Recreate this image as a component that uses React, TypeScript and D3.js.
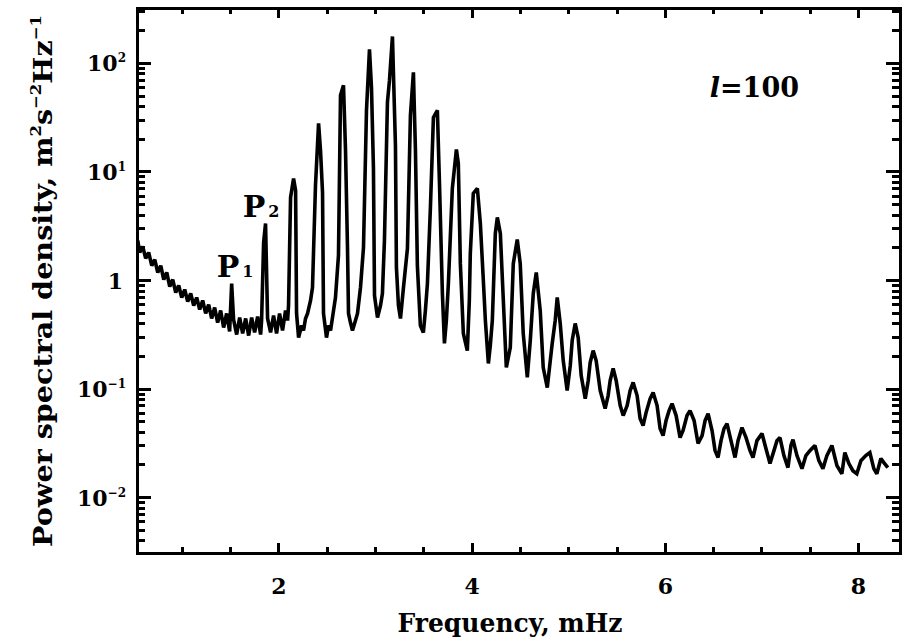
import React from 'react';
import * as d3 from 'd3';

// Frequency (mHz) and power spectral density (m^2 s^-2 Hz^-1)
const freq = [
  0.538, 0.558, 0.589, 0.620, 0.651, 0.683, 0.714, 0.745, 0.776, 0.807, 0.838, 0.869, 0.900, 0.931, 0.962, 0.993,
  1.024, 1.055, 1.086, 1.117, 1.148, 1.179, 1.210, 1.241, 1.272, 1.303, 1.334, 1.365, 1.396, 1.427, 1.458, 1.489,
  1.510, 1.530, 1.562, 1.593, 1.624, 1.655, 1.686, 1.717, 1.748, 1.779, 1.810, 1.820, 1.841, 1.861, 1.882, 1.913,
  1.944, 1.975, 2.006, 2.037, 2.068, 2.089, 2.099, 2.120, 2.151, 2.172, 2.182, 2.203, 2.234, 2.254, 2.275, 2.296,
  2.327, 2.347, 2.378, 2.410, 2.430, 2.451, 2.461, 2.492, 2.513, 2.534, 2.565, 2.585, 2.616, 2.637, 2.668, 2.689,
  2.709, 2.720, 2.740, 2.761, 2.792, 2.813, 2.844, 2.875, 2.906, 2.937, 2.958, 2.978, 2.989, 3.020, 3.051, 3.071,
  3.092, 3.123, 3.144, 3.175, 3.185, 3.206, 3.216, 3.237, 3.258, 3.289, 3.330, 3.361, 3.392, 3.402, 3.413, 3.433,
  3.464, 3.495, 3.516, 3.537, 3.568, 3.599, 3.640, 3.661, 3.692, 3.713, 3.733, 3.754, 3.795, 3.837, 3.857, 3.878,
  3.909, 3.950, 3.971, 3.981, 4.012, 4.054, 4.085, 4.116, 4.137, 4.168, 4.188, 4.209, 4.240, 4.261, 4.292, 4.323,
  4.354, 4.395, 4.426, 4.467, 4.498, 4.529, 4.571, 4.602, 4.633, 4.664, 4.705, 4.736, 4.778, 4.809, 4.829, 4.860,
  4.881, 4.912, 4.943, 4.984, 5.016, 5.036, 5.067, 5.098, 5.129, 5.171, 5.202, 5.222, 5.253, 5.284, 5.326, 5.377,
  5.408, 5.429, 5.460, 5.491, 5.533, 5.564, 5.605, 5.636, 5.667, 5.708, 5.739, 5.770, 5.801, 5.843, 5.874, 5.915,
  5.946, 5.977, 6.008, 6.039, 6.070, 6.112, 6.153, 6.184, 6.225, 6.256, 6.298, 6.339, 6.381, 6.412, 6.443, 6.484,
  6.515, 6.546, 6.577, 6.608, 6.639, 6.680, 6.722, 6.753, 6.794, 6.836, 6.877, 6.908, 6.949, 7.001, 7.042, 7.084,
  7.125, 7.156, 7.187, 7.228, 7.270, 7.301, 7.322, 7.363, 7.415, 7.456, 7.497, 7.549, 7.590, 7.632, 7.673, 7.725,
  7.777, 7.828, 7.859, 7.901, 7.942, 7.983, 8.025, 8.076, 8.118, 8.159, 8.190, 8.232, 8.263, 8.304,
];

const psd = [
  2.34, 1.81, 2.06, 1.60, 1.81, 1.37, 1.56, 1.185, 1.37, 1.02, 1.185, 0.880, 1.02, 0.775, 0.899, 0.697,
  0.826, 0.640, 0.759, 0.588, 0.697, 0.540, 0.654, 0.497, 0.601, 0.447, 0.564, 0.410, 0.529, 0.369, 0.497, 0.339,
  0.938, 0.437, 0.318, 0.456, 0.325, 0.447, 0.311, 0.456, 0.332, 0.466, 0.318, 0.428, 2.24, 3.35, 0.447, 0.332,
  0.476, 0.325, 0.497, 0.346, 0.529, 0.428, 0.588, 5.82, 8.71, 6.75, 0.497, 0.298, 0.385, 0.346, 0.447, 0.497,
  0.654, 0.862, 7.51, 28.0, 15.8, 6.47, 0.497, 0.298, 0.385, 0.346, 0.529, 0.697, 1.70, 50.7, 62.7, 15.8,
  2.10, 0.497, 0.410, 0.346, 0.428, 0.497, 0.862, 2.01, 36.9, 135, 58.9, 11.0, 0.727, 0.456, 0.588, 0.759,
  2.34, 43.7, 69.7, 177, 82.6, 17.5, 1.32, 0.588, 0.447, 0.862, 1.97, 33.2, 82.6, 36.9, 15.8, 1.37,
  0.385, 0.332, 0.529, 0.938, 4.71, 31.8, 36.9, 8.35, 0.759, 0.263, 0.428, 0.938, 7.05, 16.1, 12.0, 1.43,
  0.325, 0.226, 0.654, 1.77, 6.34, 7.05, 3.35, 1.00, 0.428, 0.172, 0.252, 0.428, 2.71, 3.81, 2.71, 0.654,
  0.158, 0.241, 1.43, 2.39, 1.43, 0.325, 0.128, 0.280, 0.759, 1.185, 0.529, 0.158, 0.103, 0.183, 0.263, 0.428,
  0.697, 0.402, 0.183, 0.0969, 0.165, 0.280, 0.402, 0.298, 0.133, 0.0817, 0.120, 0.175, 0.226, 0.183, 0.0969, 0.0661,
  0.0871, 0.120, 0.155, 0.120, 0.0705, 0.0570, 0.0705, 0.0969, 0.115, 0.0871, 0.0535, 0.0461, 0.0607, 0.0817, 0.0929, 0.0705,
  0.0432, 0.0373, 0.0513, 0.0633, 0.0735, 0.0570, 0.0357, 0.0415, 0.0570, 0.0633, 0.0513, 0.0315, 0.0373, 0.0513, 0.0594, 0.0415,
  0.0271, 0.0234, 0.0335, 0.0432, 0.0481, 0.0335, 0.0234, 0.0335, 0.0442, 0.0357, 0.0271, 0.0234, 0.0335, 0.0389, 0.0283, 0.0206,
  0.0271, 0.0335, 0.0357, 0.0244, 0.0189, 0.0302, 0.0342, 0.0244, 0.0185, 0.0244, 0.0271, 0.0302, 0.0219, 0.0185, 0.0244, 0.0302,
  0.0197, 0.0166, 0.0260, 0.0206, 0.0177, 0.0166, 0.0219, 0.0244, 0.0260, 0.0185, 0.0166, 0.0229, 0.0210, 0.0189,
];

const xMajorTicks = [2, 4, 6, 8];
const xMinorTicks = [1, 1.5, 2.5, 3, 3.5, 4.5, 5, 5.5, 6.5, 7, 7.5];
const yMajorTicks = [100, 10, 1, 0.1, 0.01];
const yTickExponents = ['2', '1', '', '-1', '-2'];
const yMinorMultipliers = [2, 3, 4, 5, 6, 7, 8, 9];
const yDecades = [0.001, 0.01, 0.1, 1, 10, 100];

const peakNames = ['P', 'P'];
const peakSubs = ['1', '2'];
const peakLabelFreq = [1.355, 1.624];
const peakLabelPsd = [1.07, 3.81];

const degreeText = '=100';
const degreeFreq = 6.46;
const degreePsd = 48.8;

const W = 904;
const H = 643;
const left = 137;
const right = 900;
const top = 8;
const bottom = 553;
const FONT = "'DejaVu Serif', serif";

export default function App() {
  const x = d3.scaleLinear().domain([0.53, 8.43]).range([left, right]);
  const y = d3.scaleLog().domain([Math.pow(10, -2.51), Math.pow(10, 2.51)]).range([bottom, top]);
  const [y0, y1] = y.domain();

  const pts = freq.map((f, i) => [f, psd[i]] as [number, number]);
  const line = d3.line<[number, number]>().x(d => x(d[0])).y(d => y(d[1]));

  const yMinor: number[] = [];
  yDecades.forEach(dec => yMinorMultipliers.forEach(m => {
    const v = dec * m;
    if (v > y0 && v < y1) yMinor.push(v);
  }));

  const xMaj = 10, xMin = 6, yMaj = 14, yMin = 8;

  return (
    <svg width={W} height={H} style={{ position: 'absolute', left: 0, top: 0, background: '#fff' }}>
      <rect x={0} y={0} width={W} height={H} fill="#fff" />
      <path d={line(pts) || ''} fill="none" stroke="#000" strokeWidth={3.6} strokeLinejoin="miter" strokeMiterlimit={2} />

      {/* ticks */}
      <g stroke="#000" strokeWidth={3} shapeRendering="crispEdges">
        {xMajorTicks.map(t => (
          <g key={'xM' + t}>
            <line x1={x(t)} x2={x(t)} y1={bottom} y2={bottom - xMaj} />
            <line x1={x(t)} x2={x(t)} y1={top} y2={top + xMaj} />
          </g>
        ))}
        {xMinorTicks.map(t => (
          <g key={'xm' + t}>
            <line x1={x(t)} x2={x(t)} y1={bottom} y2={bottom - xMin} />
            <line x1={x(t)} x2={x(t)} y1={top} y2={top + xMin} />
          </g>
        ))}
        {yMajorTicks.map(t => (
          <g key={'yM' + t}>
            <line x1={left} x2={left + yMaj} y1={y(t)} y2={y(t)} />
            <line x1={right} x2={right - yMaj} y1={y(t)} y2={y(t)} />
          </g>
        ))}
        {yMinor.map(t => (
          <g key={'ym' + t}>
            <line x1={left} x2={left + yMin} y1={y(t)} y2={y(t)} />
            <line x1={right} x2={right - yMin} y1={y(t)} y2={y(t)} />
          </g>
        ))}
      </g>
      <rect x={left} y={top} width={right - left} height={bottom - top} fill="none" stroke="#000" strokeWidth={3} shapeRendering="crispEdges" />

      {/* x tick labels */}
      <g fontFamily={FONT} fontWeight="bold" fontSize={22} textAnchor="middle">
        {xMajorTicks.map(t => (
          <text key={'xl' + t} x={x(t)} y={594}>{t}</text>
        ))}
      </g>

      {/* y tick labels */}
      <g fontFamily={FONT} fontWeight="bold" fontSize={22} textAnchor="end">
        {yMajorTicks.map((t, i) => (
          yTickExponents[i] === '' ? (
            <text key={'yl' + t} x={123} y={y(t) + 8}>1</text>
          ) : (
            <text key={'yl' + t} x={126} y={y(t) + 8}>
              10<tspan fontSize={12} dy={-9}>{yTickExponents[i].replace('-', '\u2212')}</tspan>
            </text>
          )
        ))}
      </g>

      {/* axis titles */}
      <text x={510} y={632} fontFamily={FONT} fontWeight="bold" fontSize={26} textAnchor="middle" textLength={225} lengthAdjust="spacingAndGlyphs">Frequency, mHz</text>
      <text transform={`translate(52,281) rotate(-90)`} fontFamily={FONT} fontWeight="bold" fontSize={26} textAnchor="middle" textLength={532} lengthAdjust="spacingAndGlyphs">
        Power spectral density, m<tspan fontSize={15} dy={-11}>2</tspan><tspan dy={11}>s</tspan><tspan fontSize={15} dy={-11}>{'\u22122'}</tspan><tspan dy={11}>Hz</tspan><tspan fontSize={15} dy={-11}>{'\u22121'}</tspan>
      </text>

      {/* peak labels */}
      {peakNames.map((p, i) => (
        <text key={'pk' + i} x={x(peakLabelFreq[i])} y={y(peakLabelPsd[i])} fontFamily={FONT} fontWeight="bold" fontSize={30}>
          {p}<tspan fontSize={16} dx={3}>{peakSubs[i]}</tspan>
        </text>
      ))}

      {/* degree label */}
      <text x={x(degreeFreq)} y={y(degreePsd)} fontFamily={FONT} fontWeight="bold" fontSize={27}>
        <tspan fontStyle="italic">l</tspan>{degreeText}
      </text>
    </svg>
  );
}
